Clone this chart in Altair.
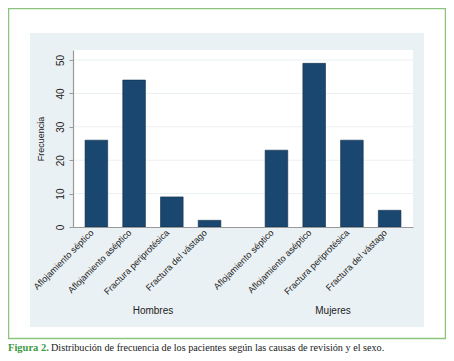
import altair as alt
import pandas as pd

groups = ["Hombres", "Mujeres"]
causes = ["Aflojamiento séptico", "Aflojamiento aséptico", "Fractura periprotésica", "Fractura del vástago"]
hombres = [26, 44, 9, 2]
mujeres = [23, 49, 26, 5]
y_ticks = [0, 10, 20, 30, 40, 50]
caption_lead = "Figura 2."
caption_text = "Distribución de frecuencia de los pacientes según las causas de revisión y el sexo."

rows = []
for g, vals in zip(groups, [hombres, mujeres]):
    for c, v in zip(causes, vals):
        rows.append({"sexo": g, "causa": c, "frecuencia": v})
df = pd.DataFrame(rows)
grid_df = pd.DataFrame({"t": y_ticks[1:]})

W, H = 340, 177
FONT = "Liberation Sans"

xscale = alt.Scale(domain=groups, paddingInner=0.162, paddingOuter=0.025)
xoff = alt.Scale(domain=causes, paddingInner=0.4, paddingOuter=0.2)
yscale = alt.Scale(domain=[0, 53], nice=False)

y_axis = alt.Axis(title="Frecuencia", values=y_ticks, tickCount=6, labelAngle=270,
                  labelAlign="center", labelBaseline="bottom", labelOverlap=False,
                  labelSeparation=0, labelBound=False,
                  labelFont=FONT, labelFontSize=10, labelColor="#222",
                  labelPadding=4, tickSize=4, tickColor="#999",
                  domainColor="#999", domainWidth=1.2, grid=False, zindex=1,
                  titleFont=FONT, titleFontSize=9, titleFontWeight="normal",
                  titleColor="#222", titlePadding=10)

one = pd.DataFrame({"k": [0]})

frame = alt.Chart(one).mark_rect(fill="white", stroke="#8cc47e", strokeWidth=1.5).encode(
    x=alt.value(-64.5), x2=alt.value(372.5), y=alt.value(-41.5), y2=alt.value(288.5)
)
region = alt.Chart(one).mark_rect(fill="#eaf1f4").encode(
    x=alt.value(-43), x2=alt.value(351), y=alt.value(-17), y2=alt.value(277)
)
plotbg = alt.Chart(one).mark_rect(fill="white").encode(
    x=alt.value(0), x2=alt.value(W), y=alt.value(0), y2=alt.value(H)
)
grid = alt.Chart(grid_df).mark_rule(color="#eaf0f3", strokeWidth=1).encode(
    y=alt.Y("t:Q", scale=yscale, axis=None), x=alt.value(0), x2=alt.value(W)
)

base = alt.Chart(df)

bars = base.mark_bar(color="#1a476f", stroke="#0f2f4c", strokeWidth=0.6).encode(
    x=alt.X("sexo:N", scale=xscale, sort=groups,
            axis=alt.Axis(title=None, labelAngle=0, ticks=False, labelPadding=78,
                          labelFont=FONT, labelFontSize=10, labelColor="#222",
                          domainColor="#999", domainWidth=1.2, grid=False, zindex=1)),
    xOffset=alt.XOffset("causa:N", scale=xoff, sort=causes),
    y=alt.Y("frecuencia:Q", scale=yscale, axis=y_axis),
)

labels = base.mark_text(angle=315, align="right", baseline="middle", dx=-6,
                        font=FONT, fontSize=9, color="#222").encode(
    x=alt.X("sexo:N", scale=xscale, sort=groups),
    xOffset=alt.XOffset("causa:N", scale=xoff, sort=causes),
    y=alt.datum(0),
    text="causa:N",
)

cap1 = alt.Chart(one).mark_text(align="left", baseline="middle", font="Liberation Serif",
                                fontSize=10.5, fontWeight="bold", color="#3d9a45").encode(
    x=alt.value(-65), y=alt.value(298), text=alt.value(caption_lead)
)
cap2 = alt.Chart(one).mark_text(align="left", baseline="middle", font="Liberation Serif",
                                fontSize=10.2, color="#1a1a1a").encode(
    x=alt.value(-22), y=alt.value(298), text=alt.value(caption_text)
)

chart = alt.layer(frame, region, plotbg, grid, bars, labels, cap1, cap2).resolve_axis(
    y="independent"
).properties(
    width=W, height=H,
    autosize=alt.AutoSizeParams(type="none"),
    padding={"left": 65, "top": 42, "right": 33, "bottom": 134},
).configure_view(stroke=None).configure(background="white").configure_axis(
    labelOverlap=False
)

chart.save("out.html", embed_options={"renderer": "svg", "actions": False})
